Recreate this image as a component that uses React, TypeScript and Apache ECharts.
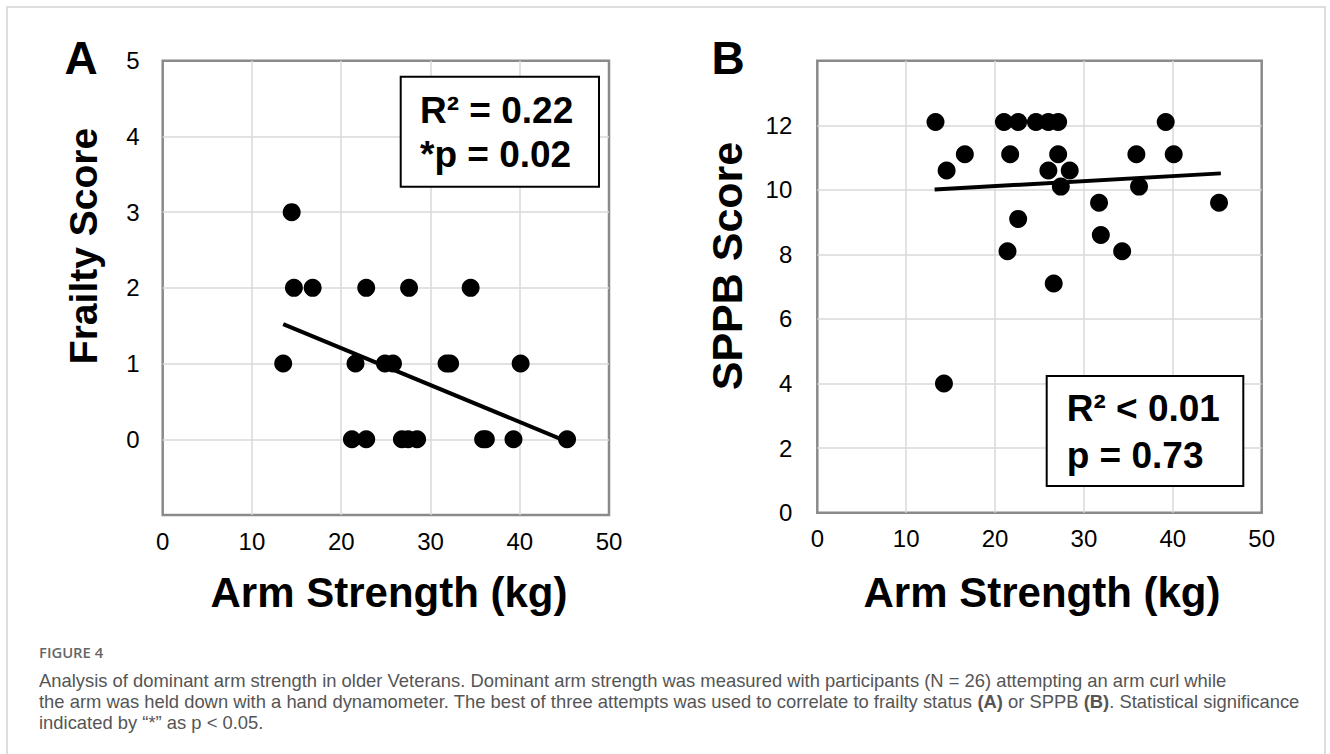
import React, { useEffect, useRef } from "react";
import * as echarts from "echarts";

// Panel A: Frailty score vs arm strength
const armA = [14.45, 14.7, 16.8, 22.8, 27.6, 34.5, 13.5, 21.6, 24.9, 25.8, 31.8, 32.2, 40.1, 21.2, 22.8, 26.8, 27.5, 28.5, 35.9, 36.2, 39.3, 45.3];
const frailty = [3, 2, 2, 2, 2, 2, 1, 1, 1, 1, 1, 1, 1, 0, 0, 0, 0, 0, 0, 0, 0, 0];
const trendAx = [13.5, 45.3];
const trendAy = [1.52, -0.03];

// Panel B: SPPB score vs arm strength
const armB = [13.3, 21.0, 22.6, 24.6, 26.0, 27.1, 39.2, 16.6, 21.7, 27.1, 35.9, 40.1, 14.55, 26.0, 28.4, 27.4, 36.2, 31.7, 45.2, 22.6, 31.9, 21.4, 34.3, 26.6, 14.25];
const sppb = [12.1, 12.1, 12.1, 12.1, 12.1, 12.1, 12.1, 11.1, 11.1, 11.1, 11.1, 11.1, 10.6, 10.6, 10.6, 10.1, 10.1, 9.6, 9.6, 9.1, 8.6, 8.1, 8.1, 7.1, 4.0];
const trendBx = [13.2, 45.4];
const trendBy = [10.01, 10.51];

const statsA = ["R² = 0.22", "*p = 0.02"];
const statsB = ["R² < 0.01", "p = 0.73"];

const captionTitle = "FIGURE 4";
const captionLines = [
  "Analysis of dominant arm strength in older Veterans. Dominant arm strength was measured with participants (N = 26) attempting an arm curl while",
  "the arm was held down with a hand dynamometer. The best of three attempts was used to correlate to frailty status {b|(A)} or SPPB {b|(B)}. Statistical significance",
  "indicated by \u201c*\u201d as p < 0.05.",
];

const FONT = "'Liberation Sans', Arial, Helvetica, sans-serif";
const CAP_FONT = "'Liberation Sans', Arial, sans-serif";

export default function App() {
  const ref = useRef<HTMLDivElement>(null);
  useEffect(() => {
    if (!ref.current) return;
    const chart = echarts.init(ref.current, null, { renderer: "svg" });
    const gridBase = {
      show: true,
      borderColor: "#8a8a8a",
      borderWidth: 2.5,
      backgroundColor: "transparent",
      containLabel: false,
    };
    const splitLine = {
      show: true,
      showMinLine: false,
      showMaxLine: false,
      lineStyle: { color: "#d9d9d9", width: 1.5 },
    };
    const xAxisBase = {
      type: "value",
      min: 0,
      max: 50,
      interval: 10,
      axisLine: { show: false },
      axisTick: { show: false },
      splitLine,
      axisLabel: { fontSize: 24, color: "#000", fontFamily: FONT, margin: 14 },
    };
    const opt: any = {
      animation: false,
      backgroundColor: "#fff",
      textStyle: { fontFamily: FONT },
      grid: [
        { ...gridBase, left: 162.7, top: 60.7, width: 446.3, height: 454.3 },
        { ...gridBase, left: 817.3, top: 60.7, width: 444.4, height: 452 },
      ],
      xAxis: [
        { ...xAxisBase, gridIndex: 0 },
        { ...xAxisBase, gridIndex: 1 },
      ],
      yAxis: [
        {
          type: "value",
          gridIndex: 0,
          min: -1,
          max: 5,
          interval: 1,
          axisLine: { show: false },
          axisTick: { show: false },
          splitLine,
          axisLabel: {
            fontSize: 24,
            color: "#000",
            fontFamily: FONT,
            margin: 23,
            formatter: (v: number) => (v < 0 ? "" : String(v)),
          },
        },
        {
          type: "value",
          gridIndex: 1,
          min: 0,
          max: 14,
          interval: 2,
          axisLine: { show: false },
          axisTick: { show: false },
          splitLine,
          axisLabel: {
            fontSize: 24,
            color: "#000",
            fontFamily: FONT,
            margin: 25,
            formatter: (v: number) => (v > 12 ? "" : String(v)),
          },
        },
      ],
      series: [
        {
          type: "line",
          xAxisIndex: 0,
          yAxisIndex: 0,
          data: trendAx.map((x, i) => [x, trendAy[i]]),
          showSymbol: false,
          lineStyle: { color: "#000", width: 4 },
          z: 3,
        },
        {
          type: "scatter",
          xAxisIndex: 0,
          yAxisIndex: 0,
          data: armA.map((x, i) => [x, frailty[i]]),
          symbolSize: 18,
          itemStyle: { color: "#000", opacity: 1 },
          z: 4,
        },
        {
          type: "line",
          xAxisIndex: 1,
          yAxisIndex: 1,
          data: trendBx.map((x, i) => [x, trendBy[i]]),
          showSymbol: false,
          lineStyle: { color: "#000", width: 4 },
          z: 3,
        },
        {
          type: "scatter",
          xAxisIndex: 1,
          yAxisIndex: 1,
          data: armB.map((x, i) => [x, sppb[i]]),
          symbolSize: 18,
          itemStyle: { color: "#000", opacity: 1 },
          z: 4,
        },
      ],
      graphic: [
        {
          type: "polyline",
          z: 100,
          shape: { points: [[7, 760], [7, 7], [1325, 7], [1325, 760]] },
          style: { stroke: "#d4d4d4", lineWidth: 1.5, fill: null },
        },
        // panel letters
        { type: "text", z: 100, x: 81, y: 58, style: { text: "A", font: `bold 46px ${FONT}`, fill: "#000", textAlign: "center", textVerticalAlign: "middle" } },
        { type: "text", z: 100, x: 728, y: 58, style: { text: "B", font: `bold 46px ${FONT}`, fill: "#000", textAlign: "center", textVerticalAlign: "middle" } },
        // y axis titles
        { type: "text", z: 100, x: 83, y: 246, rotation: Math.PI / 2, style: { text: "Frailty Score", font: `bold 39px ${FONT}`, fill: "#000", textAlign: "center", textVerticalAlign: "middle" } },
        { type: "text", z: 100, x: 727, y: 266, rotation: Math.PI / 2, style: { text: "SPPB Score", font: `bold 43px ${FONT}`, fill: "#000", textAlign: "center", textVerticalAlign: "middle" } },
        // x axis titles
        { type: "text", z: 100, x: 389, y: 592, style: { text: "Arm Strength (kg)", font: `bold 42px ${FONT}`, fill: "#000", textAlign: "center", textVerticalAlign: "middle" } },
        { type: "text", z: 100, x: 1042, y: 592, style: { text: "Arm Strength (kg)", font: `bold 42px ${FONT}`, fill: "#000", textAlign: "center", textVerticalAlign: "middle" } },
        // stat boxes
        { type: "rect", z: 100, shape: { x: 400.7, y: 76.7, width: 198.3, height: 110 }, style: { stroke: "#000", lineWidth: 2, fill: "#fff" } },
        { type: "text", z: 101, x: 420, y: 110, style: { text: statsA[0], font: `bold 37px ${FONT}`, fill: "#000", textAlign: "left", textVerticalAlign: "middle" } },
        { type: "text", z: 101, x: 420, y: 154, style: { text: statsA[1], font: `bold 37px ${FONT}`, fill: "#000", textAlign: "left", textVerticalAlign: "middle" } },
        { type: "rect", z: 100, shape: { x: 1046.7, y: 376, width: 196.6, height: 110 }, style: { stroke: "#000", lineWidth: 2, fill: "#fff" } },
        { type: "text", z: 101, x: 1066.7, y: 408, style: { text: statsB[0], font: `bold 37px ${FONT}`, fill: "#000", textAlign: "left", textVerticalAlign: "middle" } },
        { type: "text", z: 101, x: 1066.7, y: 455, style: { text: statsB[1], font: `bold 37px ${FONT}`, fill: "#000", textAlign: "left", textVerticalAlign: "middle" } },
        // caption
        { type: "text", z: 100, x: 39, y: 652, style: { text: captionTitle, font: `600 14.8px 'Open Sans', sans-serif`, fill: "#666", textAlign: "left", textVerticalAlign: "middle" } },
        ...captionLines.map((t, i) => ({
          type: "text",
          z: 100,
          x: 39,
          y: 680 + i * 21,
          style: {
            text: t,
            font: `18.4px ${CAP_FONT}`,
            lineHeight: 20,
            fill: "#555",
            textAlign: "left",
            textVerticalAlign: "middle",
            rich: { b: { fontWeight: "bold", fontSize: 18.4, lineHeight: 20, fontFamily: CAP_FONT, fill: "#555" } },
          },
        })),
      ],
    };
    chart.setOption(opt);
    return () => chart.dispose();
  }, []);
  return (
    <div
      ref={ref}
      style={{ position: "absolute", left: 0, top: 0, width: 1330, height: 754, background: "#fff" }}
    />
  );
}
